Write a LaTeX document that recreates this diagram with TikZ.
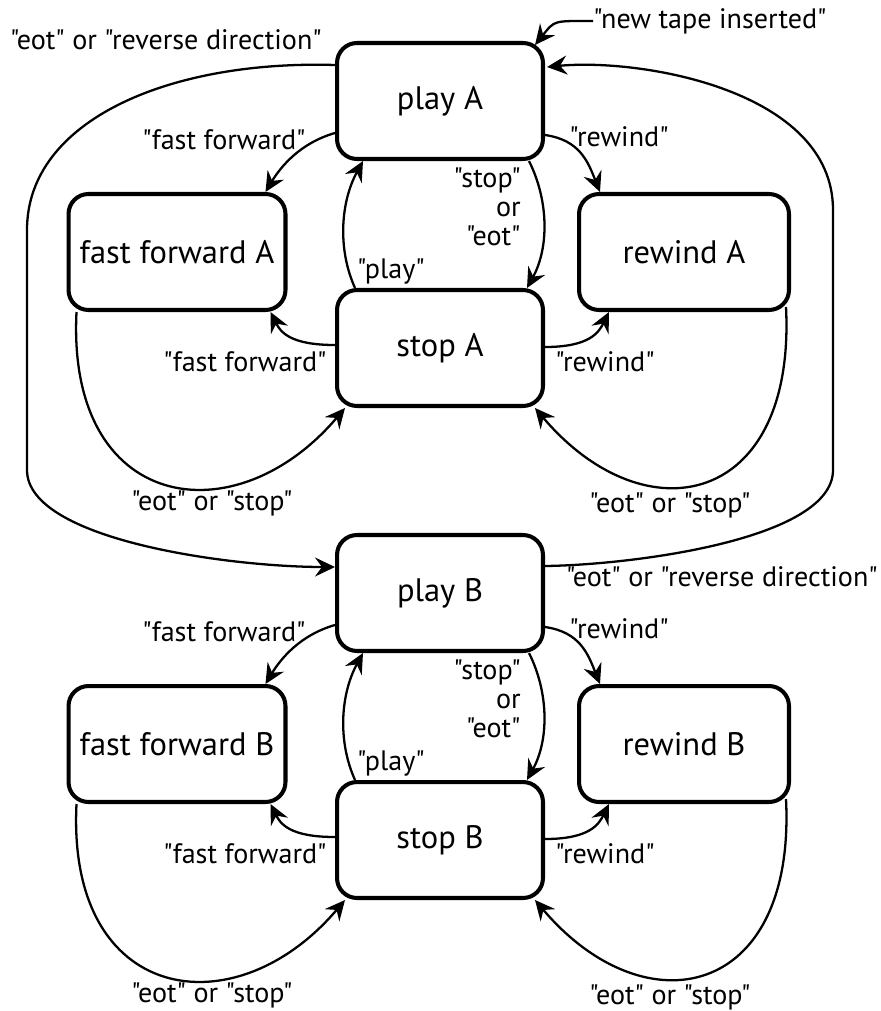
\documentclass[tikz,border=0pt]{standalone}
\usepackage{fontspec}
\setmainfont{PT Sans}[Ligatures=TeXOff]
\usetikzlibrary{arrows.meta,calc}
\tikzset{
  statebox/.style={draw,line width=2.3pt,rounded corners=0.4cm,minimum height=2.32cm,
    font=\fontsize{18.5}{22}\selectfont},
  lbl/.style={font=\fontsize{16}{19.5}\selectfont,inner sep=0pt},
  trans/.style={line width=1.3pt,-{Stealth[length=0.4cm,width=0.38cm,inset=0.14cm]}}
}
\begin{document}
\begin{tikzpicture}[x=0.02cm,y=-0.02cm]
              \useasboundingbox (0,0) rectangle (880,1011);

              % States
              \node[statebox,minimum width=4.12cm] (playA) at (440,101) {play A};
              \node[statebox,minimum width=4.12cm] (stopA) at (440,348) {stop A};
              \node[statebox,minimum width=4.34cm] (ffA) at (177,252) {fast forward A};
              \node[statebox,minimum width=4.2cm] (rewA) at (684,252) {rewind A};
              \node[statebox,minimum width=4.12cm] (playB) at (440,593) {play B};
              \node[statebox,minimum width=4.12cm] (stopB) at (440,840) {stop B};
              \node[statebox,minimum width=4.34cm] (ffB) at (177,744) {fast forward B};
              \node[statebox,minimum width=4.2cm] (rewB) at (684,744) {rewind B};

              % Loop corners
              \coordinate (ltop) at (27,230);
              \coordinate (lbot) at (27,470);
              \coordinate (rtop) at (833,210);
              \coordinate (rbot) at (833,470);

              % Tape and direction changes
              \node[lbl] (tape) at (710,21) {"new tape inserted"};
              \draw[trans] (tape.west) .. controls +(-40,0) and +(20,-25) .. ($(playA.north east)+(-10,4)$);
              \node[lbl] (revA) at (166,40) {"eot" or "reverse direction"};
              \draw[line width=1.3pt] ($(playA.west)+(0,-36)$) .. controls (170,60) and (27,120) .. (ltop) -- (lbot);
              \draw[trans] (lbot) .. controls (27,540) and (230,567) .. ($(playB.west)+(0,-26)$);
              \node[lbl] (revB) at (722,577) {"eot" or "reverse direction"};
              \draw[line width=1.3pt] ($(playB.east)+(0,-27)$) .. controls (630,565) and (833,540) .. (rbot) -- (rtop);
              \draw[trans] (rtop) .. controls (833,90) and (640,58) .. ($(playA.east)+(2,-34)$);

              % Machine A and machine B
              \foreach \s/\dy in {A/0,B/492} {
                \draw[trans] ($(play\s.west)+(0,32)$) .. controls +(-35,10) and +(15,-25) .. ($(ff\s.north east)+(-22,0)$);
                \node[lbl] (ffup\s) at (224,140+\dy) {"fast forward"};
                \draw[trans] ($(play\s.east)+(0,34)$) .. controls +(35,5) and +(-12,-30) .. ($(rew\s.north west)+(23,0)$);
                \node[lbl] (rewup\s) at (619,137+\dy) {"rewind"};
                \draw[trans] ($(play\s.south east)+(-16,0)$) .. controls +(20,40) and +(22,-40) .. ($(stop\s.north east)+(-18,0)$);
                \node[lbl,font=\fontsize{16}{16.5}\selectfont,align=right,anchor=east] (halt\s) at (521,207+\dy) {"stop"\\or\\"eot"};
                \draw[trans] ($(stop\s.north west)+(20,0)$) .. controls +(-18,-40) and +(-22,40) .. ($(play\s.south west)+(28,0)$);
                \node[lbl] (go\s) at (391,272+\dy) {"play"};
                \draw[trans] ($(stop\s.west)+(0,-3)$) .. controls +(-45,0) and +(10,20) .. ($(ff\s.south east)+(-17,0)$);
                \node[lbl] (fflo\s) at (245,362+\dy) {"fast forward"};
                \draw[trans] ($(stop\s.east)+(0,-1)$) .. controls +(45,0) and +(-10,20) .. ($(rew\s.south west)+(32,0)$);
                \node[lbl] (rewlo\s) at (605,362+\dy) {"rewind"};
                \draw[trans] ($(ff\s.south west)+(10,0)$) .. controls +(-10,200) and +(-110,130) .. ($(stop\s.south west)+(10,0)$);
                \node[lbl] (endl\s) at (212,503+\dy) {"eot" or "stop"};
                \draw[trans] ($(rew\s.south east)+(-5,-5)$) .. controls +(10,200) and +(110,130) .. ($(stop\s.south east)+(-10,0)$);
                \node[lbl] (endr\s) at (670,505+\dy) {"eot" or "stop"};
              }
\end{tikzpicture}
\end{document}
